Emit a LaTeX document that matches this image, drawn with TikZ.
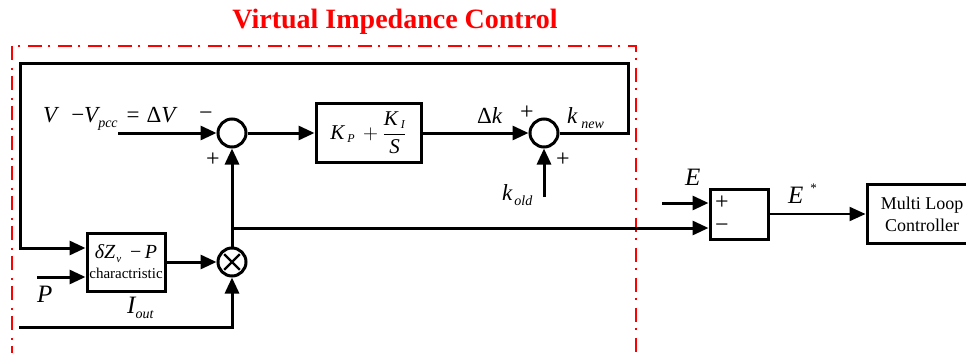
\documentclass[tikz,border=0pt]{standalone}
\usepackage{fontspec}
\setmainfont{Liberation Serif}
\usetikzlibrary{arrows.meta}
\newcommand\lowsub[1]{\raisebox{-5pt}{\fontsize{14}{14}\selectfont\itshape #1}}

\begin{document}
\begin{tikzpicture}[x=1pt,y=-1pt,
  sig/.style={line width=3pt,-{Triangle[length=16pt,width=14pt]}},
  blk/.style={draw,line width=3pt,rectangle,inner sep=0pt},
  sumnode/.style={draw,line width=3pt,circle,minimum size=28pt,inner sep=0pt},
  lbl/.style={font=\fontsize{23}{25}\selectfont\itshape,inner sep=0pt,anchor=base west},
  sgn/.style={font=\fontsize{24}{24}\selectfont,inner sep=0pt}]
\useasboundingbox (0,0) rectangle (966,353);
\clip (0,0) rectangle (966,353);

\node[red,font=\fontsize{28}{30}\selectfont\bfseries] (title) at (395,22) {Virtual Impedance Control};
\draw[red,line width=2pt,dash pattern=on 14pt off 6pt on 2pt off 8pt]
  (12,360) -- (12,46) -- (636,46) -- (636,360);

\node[sumnode] (suma) at (232,133) {};
\node[blk,minimum width=105pt,minimum height=59pt] (pi) at (368.5,133)
  {\fontsize{21}{23}\selectfont$\displaystyle\mbox{\itshape K}_{\mbox{\fontsize{12}{12}\selectfont\itshape\hspace{3pt}P}}\,+\frac{\mbox{\itshape K}_{\mbox{\fontsize{12}{12}\selectfont\itshape\hspace{3pt}I}}}{\mbox{\itshape S}}$};
\node[sumnode] (sumb) at (544,133) {};
\node[sumnode] (mult) at (232,262) {};
\draw[line width=2.2pt] (mult.center) ++(45:11) -- ++(225:22)
  (mult.center) ++(135:11) -- ++(315:22);
\node[blk,minimum width=78pt,minimum height=58pt,align=center,
  font=\fontsize{15}{20}\selectfont] (zchar) at (126,262)
  {{\fontsize{20}{20}\selectfont\itshape δZ\raisebox{-4pt}{\fontsize{11}{11}\selectfont\hspace{1pt}v}\hspace{9pt}{\upshape −}\,P}\\
   charactristic};
\node[blk,minimum width=58pt,minimum height=50pt] (ebox) at (739,214) {};
\node[blk,minimum width=110pt,minimum height=59pt,align=center,
  font=\fontsize{18}{22}\selectfont] (mlc) at (922,214) {Multi Loop\\Controller};

\coordinate (vin) at (118,133);
\coordinate (pin) at (37,277);
\coordinate (iin) at (19,327);
\coordinate (kin) at (544,197);
\coordinate (ein) at (662,203);
\coordinate (tap) at (232,228);
\coordinate (fbr) at (628,64);
\coordinate (fbl) at (20,64);

\draw[sig] (vin) -- (suma);
\draw[sig] (suma) -- (pi);
\draw[sig] (pi) -- (sumb);
\draw[sig] (kin) -- (sumb);
\draw[sig] (sumb.east) -| (fbr) -- (fbl) |- ([yshift=14pt]zchar.west);
\draw[sig] (pin) -- ([yshift=-15pt]zchar.west);
\draw[sig] (zchar) -- (mult);
\draw[sig] (iin) -| (mult.south);
\draw[sig] (mult) -- (suma);
\draw[sig] (tap) -- ([yshift=-14pt]ebox.west);
\draw[sig] (ein) -- ([yshift=11pt]ebox.west);
\draw[sig,line width=2.2pt] (ebox) -- (mlc);

\node[lbl] (vlab) at (43,122) {V\hspace{14pt}{\upshape −}V\lowsub{pcc}\hspace{9pt}{\upshape =\hspace{7pt}Δ}V};
\node[sgn] (sa1) at (206,116) {−};
\node[sgn] (sa2) at (213,160) {+};
\node[lbl] (dk) at (477,123) {{\upshape Δ}k};
\node[sgn] (sb1) at (527,113) {+};
\node[lbl] (knew) at (567,123) {k\hspace{4pt}\lowsub{new}};
\node[sgn] (sb2) at (563,160) {+};
\node[lbl] (kold) at (502,200) {k\hspace{2pt}\lowsub{old}};
\node[lbl,font=\fontsize{25}{26}\selectfont\itshape] (elab) at (685,185) {E};
\node[lbl,font=\fontsize{25}{26}\selectfont\itshape] (estar) at (788,203) {E\hspace{7pt}\raisebox{11pt}{\fontsize{13}{13}\selectfont\upshape *}};
\node[sgn] (e1) at (722,203) {+};
\node[sgn] (e2) at (722,228) {−};
\node[lbl,font=\fontsize{25}{26}\selectfont\itshape] (plab) at (37,302) {P};
\node[lbl,font=\fontsize{25}{26}\selectfont\itshape] (ilab) at (127,313) {I\lowsub{out}};
\end{tikzpicture}
\end{document}
